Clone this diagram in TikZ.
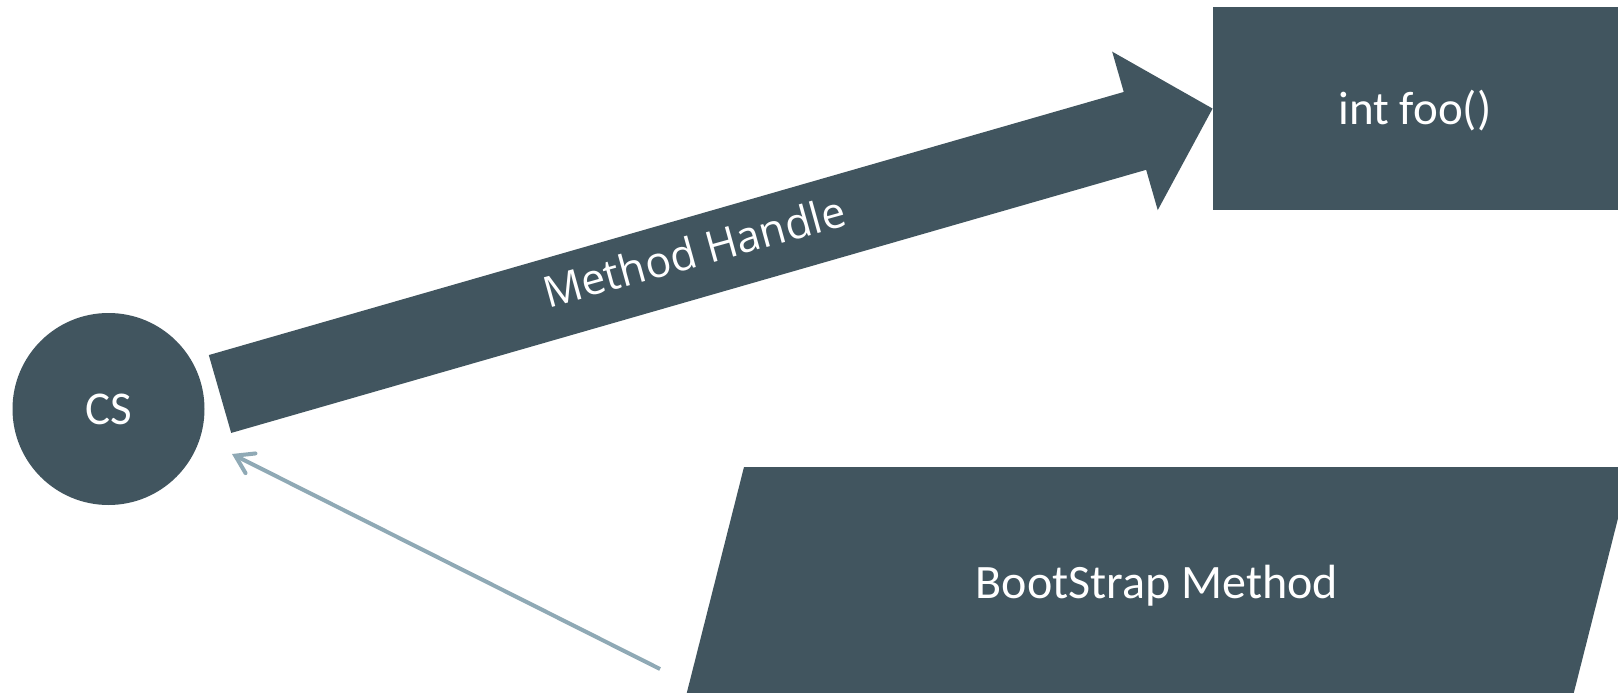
\documentclass[tikz,border=0pt]{standalone}
\usepackage{fontspec}
\setmainfont{Carlito}
\newfontfamily\osans{Open Sans}
\usetikzlibrary{arrows.meta,calc}
\definecolor{dark}{RGB}{65,85,95}
\definecolor{light}{RGB}{143,169,181}
\tikzset{
  darkshape/.style={fill=dark, draw=none, text=white, font=\fontsize{47}{56}\selectfont, inner sep=0pt},
  fatarrow/.style={draw=dark, line width=81pt, -{Triangle[length=81pt, width=160pt]}},
  thinarrow/.style={draw=light, line width=4pt, -{Straight Barb[length=17pt, width=22pt, line cap=round]}},
  arrowlabel/.style={text=white, font=\osans\fontsize{43}{50}\selectfont, inner sep=0pt}
}
\begin{document}
\begin{tikzpicture}[x=1pt,y=-1pt]
\useasboundingbox (0,0) rectangle (1618,693);
\clip (0,0) rectangle (1618,693);
\fill[white] (0,0) rectangle (1618,693);
% nodes
\node[darkshape, circle, minimum size=192pt] (cs) at (108.5,409) {CS};
\node[darkshape, rectangle, minimum width=405pt, minimum height=203pt] (foo) at (1415.5,108.5) {};
\node[text=white, font=\fontsize{47}{56}\selectfont, inner sep=0pt] (footext) at (1415,111) {int foo()};
\fill[dark] (744,467) -- (1631,467) -- (1572,700) -- (685,700) -- cycle;
\node[text=white, font=\fontsize{48}{58}\selectfont, inner sep=0pt] (bsm) at (1157,586) {BootStrap Method};
% connectors
\coordinate (mhs) at (220,394);
\draw[fatarrow] (mhs) -- (foo.west);
\node[arrowlabel, rotate=15.5] (mhl) at (694,251) {Method Handle};
\coordinate (bst) at (660,669);
\coordinate (cst) at (232,454);
\draw[thinarrow] (bst) -- (cst);
\end{tikzpicture}
\end{document}
